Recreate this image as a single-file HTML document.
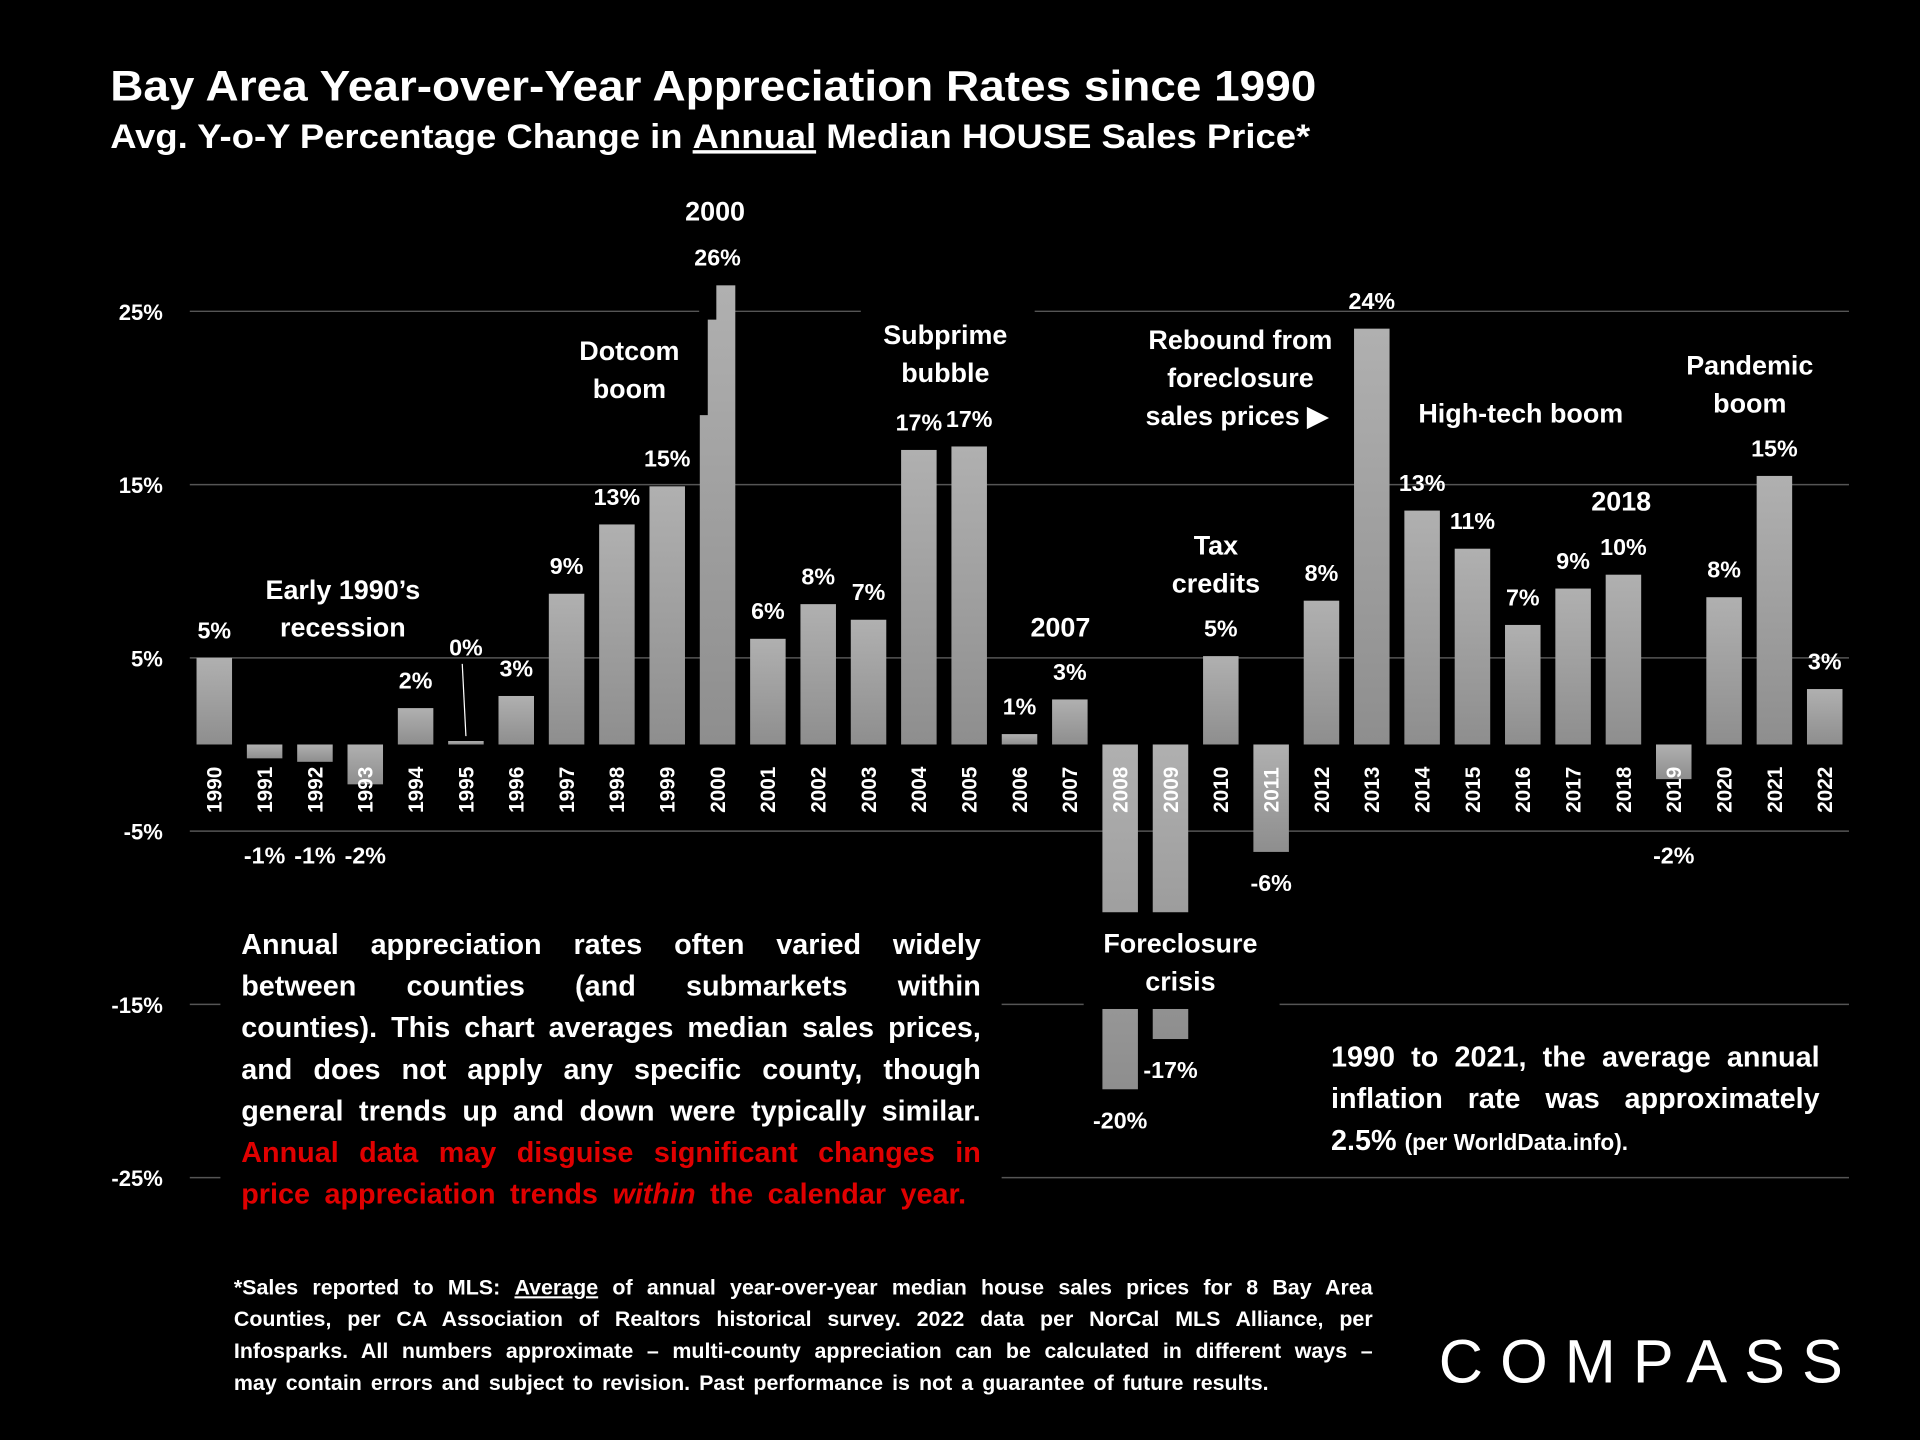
<!DOCTYPE html>
<html><head><meta charset="utf-8"><style>
html,body{margin:0;padding:0;background:#000;}
svg{display:block;}
text{font-family:"Liberation Sans",sans-serif;font-weight:bold;fill:#fff;}
</style></head><body>
<svg id="chart" width="1920" height="1440" viewBox="0 0 1568 1176" xmlns="http://www.w3.org/2000/svg">
<defs><linearGradient id="bg" x1="0" y1="0" x2="0" y2="1"><stop offset="0" stop-color="#b0b0b0"/><stop offset="1" stop-color="#8e8e8e"/></linearGradient></defs>
<rect width="1568" height="1176" fill="#000"/>
<text x="90" y="82" font-size="35" textLength="985" lengthAdjust="spacingAndGlyphs">Bay Area Year-over-Year Appreciation Rates since 1990</text>
<text x="90" y="121" font-size="28" textLength="980" lengthAdjust="spacingAndGlyphs">Avg. Y-o-Y Percentage Change in <tspan text-decoration="underline">Annual</tspan> Median HOUSE Sales Price*</text>
<g id="grid"></g>
<g id="bars"></g>
<g id="annot">
<rect x="703" y="240" width="142" height="30" fill="#000"/>
<rect x="885" y="745" width="160" height="79" fill="#000"/>
<rect x="180" y="750" width="638" height="240" fill="#000"/>
<rect x="1060" y="835" width="445" height="115" fill="#000"/>
<g font-size="22" text-anchor="middle">
<text x="584" y="180">2000</text>
<text x="514" y="294">Dotcom<tspan x="514" dy="31">boom</tspan></text>
<text x="772" y="281">Subprime<tspan x="772" dy="31">bubble</tspan></text>
<text x="1013" y="285">Rebound from<tspan x="1013" dy="31">foreclosure</tspan><tspan x="1010" dy="31">sales prices  ▶</tspan></text>
<text x="1242" y="345">High-tech boom</text>
<text x="1429" y="306">Pandemic<tspan x="1429" dy="31">boom</tspan></text>
<text x="1324" y="417">2018</text>
<text x="993" y="453">Tax<tspan x="993" dy="31">credits</tspan></text>
<text x="866" y="520">2007</text>
<text x="280" y="489">Early 1990’s<tspan x="280" dy="31">recession</tspan></text>
<text x="964" y="778">Foreclosure<tspan x="964" dy="31">crisis</tspan></text>
</g>
<g font-size="23.5">
<text class="just" data-w="604" x="197" y="779">Annual appreciation rates often varied widely</text>
<text class="just" data-w="604" x="197" y="813">between counties (and submarkets within</text>
<text class="just" data-w="604" x="197" y="847">counties). This chart averages  median sales prices,</text>
<text class="just" data-w="604" x="197" y="881">and does not apply any specific county, though</text>
<text class="just" data-w="604" x="197" y="915">general trends up and down were typically similar.</text>
<text class="just" data-w="604" x="197" y="949" style="fill:#e00000">Annual data may disguise significant changes in</text>
<text class="just" data-w="592" x="197" y="983" style="fill:#e00000">price appreciation trends <tspan font-style="italic">within</tspan> the calendar year.</text>
</g>
<g font-size="23.5">
<text class="just" data-w="399" x="1087" y="871">1990 to 2021, the average annual</text>
<text class="just" data-w="399" x="1087" y="905">inflation rate was approximately</text>
<text x="1087" y="939">2.5% <tspan font-size="18.5">(per WorldData.info).</tspan></text>
</g>
<g font-size="17.5">
<text class="just" data-w="930" x="191" y="1057">*Sales reported to MLS: <tspan text-decoration="underline">Average</tspan> of annual year-over-year median house sales prices for 8 Bay Area</text>
<text class="just" data-w="930" x="191" y="1083">Counties, per CA Association of Realtors historical survey. 2022 data per NorCal MLS Alliance, per</text>
<text class="just" data-w="930" x="191" y="1109">Infosparks. All numbers approximate – multi-county appreciation can be calculated in different ways –</text>
<text class="just" data-w="845" x="191" y="1135">may contain errors and subject to revision. Past performance is not a guarantee of future results.</text>
</g>
<text x="1175" y="1129" font-size="50" style="font-weight:normal" textLength="330" lengthAdjust="spacing">COMPASS</text>
</g>
</svg>
<script>
const years=[1990,1991,1992,1993,1994,1995,1996,1997,1998,1999,2000,2001,2002,2003,2004,2005,2006,2007,2008,2009,2010,2011,2012,2013,2014,2015,2016,2017,2018,2019,2020,2021,2022];
const values=[5,-0.8,-1,-2.3,2.1,0.2,2.8,8.7,12.7,14.9,26.5,6.1,8.1,7.2,17,17.2,0.6,2.6,-19.9,-17,5.1,-6.2,8.3,24,13.5,11.3,6.9,9,9.8,-2,8.5,15.5,3.2];
const valueLabels=["5%","-1%","-1%","-2%","2%","0%","3%","9%","13%","15%","26%","6%","8%","7%","17%","17%","1%","3%","-20%","-17%","5%","-6%","8%","24%","13%","11%","7%","9%","10%","-2%","8%","15%","3%"];
const ticks=[25,15,5,-5,-15,-25];
const NS="http://www.w3.org/2000/svg";
const y=v=>608-v*14.15;
const x=i=>175+i*41.1;
function mk(t,a,p){const e=document.createElementNS(NS,t);for(const k in a)e.setAttribute(k,a[k]);p.appendChild(e);return e;}
const grid=document.getElementById('grid'),bars=document.getElementById('bars');
ticks.forEach(t=>{
 const l=mk('line',{x1:155,x2:1510,y1:y(t),y2:y(t),stroke:'#555','stroke-width':1.2},grid);
 
 
 const tx=mk('text',{x:133,y:y(t)+7,'text-anchor':'end','font-size':18},grid);
 tx.textContent=t+'%';
 
 
});
years.forEach((yr,i)=>{
 const v=values[i],cx=x(i),w=29;
 const top=Math.min(y(v),y(0)),h=Math.abs(y(v)-y(0));
 const r=mk('rect',{x:cx-w/2,y:top,width:w,height:Math.max(h,1.5),fill:'url(#bg)'},bars);
 
 
 let ly=v>=0?top-16:Math.max(top+h+32,705);
 if(Math.abs(v)<0.4) ly=top-70;
 const lt=mk('text',{x:cx,y:ly,'text-anchor':'middle','font-size':19},bars);
 lt.textContent=valueLabels[i];
 
 
 if(Math.abs(v)<0.4){const ll=mk('line',{x1:cx-3,y1:top-63,x2:cx,y2:top-4,stroke:'#fff','stroke-width':1},bars);}
 const yl=mk('text',{x:0,y:0,'text-anchor':'middle','font-size':17,transform:`translate(${cx+6},645) rotate(-90)`},bars);
 yl.textContent=yr;
 
 
});
const n2=x(10);
mk('rect',{x:n2-15,y:y(values[10])-1,width:14,height:29,fill:'#000'},bars);
mk('rect',{x:n2-15,y:y(values[10])+27,width:7,height:79,fill:'#000'},bars);
document.querySelectorAll('text.just').forEach(t=>{
 const W=+t.getAttribute('data-w');
 const nat=t.getComputedTextLength();
 if(nat>W){t.setAttribute('textLength',W);t.setAttribute('lengthAdjust','spacingAndGlyphs');return;}
 const sp=t.textContent.trim().split(/\s+/).length-1;
 const ws=(W-nat)/sp;
 t.style.wordSpacing=ws+'px';
});
</script>
</body></html>
